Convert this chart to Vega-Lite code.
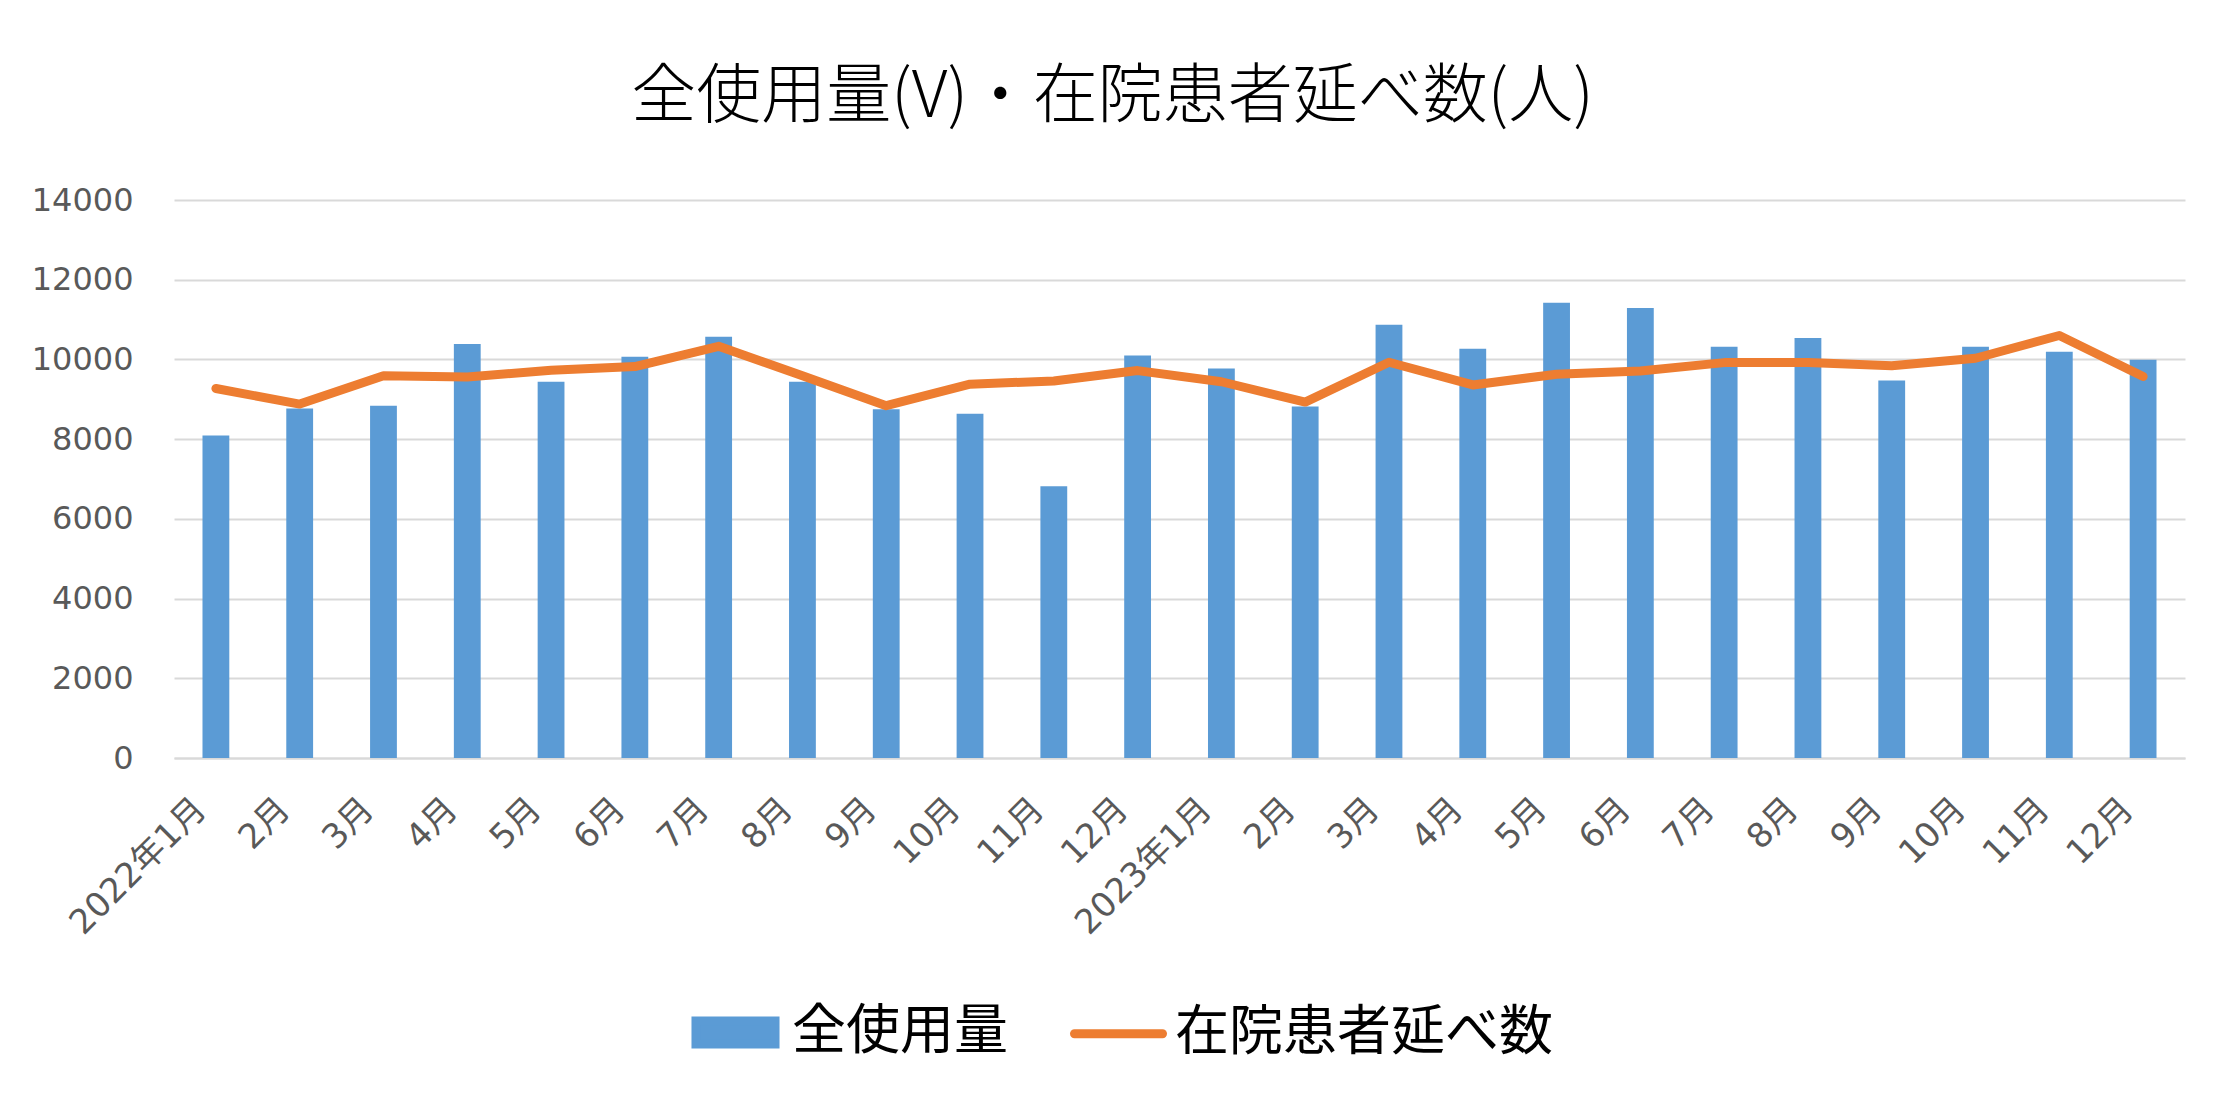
{
  "$schema": "https://vega.github.io/schema/vega-lite/v6.json",
  "width": 2011,
  "height": 558,
  "autosize": {"type": "none"},
  "padding": {"left": 174, "top": 200, "right": 51, "bottom": 353},
  "background": "white",
  "title": {
    "text": "全使用量(V)・在院患者延べ数(人)",
    "font": "Noto Sans CJK JP",
    "fontSize": 65,
    "fontWeight": 300,
    "color": "#000000",
    "anchor": "middle",
    "offset": 53,
    "dx": -67
  },
  "data": {
    "values": [
      {"month": "2022年1月", "usage": 8090, "patients": 9270},
      {"month": "2022年2月", "usage": 8770, "patients": 8880},
      {"month": "2022年3月", "usage": 8840, "patients": 9590},
      {"month": "2022年4月", "usage": 10390, "patients": 9560},
      {"month": "2022年5月", "usage": 9440, "patients": 9730},
      {"month": "2022年6月", "usage": 10070, "patients": 9820},
      {"month": "2022年7月", "usage": 10570, "patients": 10330},
      {"month": "2022年8月", "usage": 9440, "patients": 9590},
      {"month": "2022年9月", "usage": 8750, "patients": 8840},
      {"month": "2022年10月", "usage": 8640, "patients": 9380},
      {"month": "2022年11月", "usage": 6820, "patients": 9460},
      {"month": "2022年12月", "usage": 10100, "patients": 9720},
      {"month": "2023年1月", "usage": 9770, "patients": 9440},
      {"month": "2023年2月", "usage": 8820, "patients": 8930},
      {"month": "2023年3月", "usage": 10870, "patients": 9930},
      {"month": "2023年4月", "usage": 10270, "patients": 9360},
      {"month": "2023年5月", "usage": 11420, "patients": 9630},
      {"month": "2023年6月", "usage": 11290, "patients": 9710},
      {"month": "2023年7月", "usage": 10320, "patients": 9920},
      {"month": "2023年8月", "usage": 10540, "patients": 9920},
      {"month": "2023年9月", "usage": 9470, "patients": 9840},
      {"month": "2023年10月", "usage": 10320, "patients": 10030},
      {"month": "2023年11月", "usage": 10190, "patients": 10600},
      {"month": "2023年12月", "usage": 9990, "patients": 9570}
    ]
  },
  "encoding": {
    "x": {
      "field": "month",
      "type": "nominal",
      "sort": null,
      "scale": {"paddingInner": 0.68, "paddingOuter": 0.34},
      "axis": {
        "title": null,
        "labelAngle": -45,
        "labelAlign": "right",
        "labelBaseline": "middle",
        "labelPadding": 46,
        "labelOffset": -15,
        "labelLimit": 0,
        "ticks": false,
        "domain": true,
        "domainColor": "#d9d9d9",
        "domainWidth": 2,
        "grid": false,
        "labelFont": "DejaVu Sans, Noto Sans CJK JP",
        "labelFontSize": 34,
        "labelColor": "#595959",
        "labelExpr": "slice(datum.value, 5) == '1月' ? datum.value : slice(datum.value, 5)"
      }
    }
  },
  "layer": [
    {
      "mark": {"type": "bar", "color": "#5B9BD5"},
      "encoding": {
        "y": {
          "field": "usage",
          "type": "quantitative",
          "scale": {"domain": [0, 14000]},
          "axis": {
            "title": null,
            "values": [0, 2000, 4000, 6000, 8000, 10000, 12000, 14000],
            "format": "d",
            "grid": true,
            "gridColor": "#d9d9d9",
            "gridWidth": 2,
            "domain": false,
            "ticks": false,
            "labelPadding": 41,
            "labelFont": "DejaVu Sans",
            "labelFontSize": 32,
            "labelColor": "#595959"
          }
        },
        "color": {
          "datum": "全使用量",
          "scale": {"domain": ["全使用量", "在院患者延べ数"], "range": ["#5B9BD5", "#ED7D31"]},
          "legend": {
            "orient": "none",
            "legendX": 513,
            "legendY": 784,
            "direction": "horizontal",
            "title": null,
            "padding": 0,
            "labelFont": "Noto Sans CJK JP",
            "labelFontSize": 54,
            "labelColor": "#000000",
            "labelOffset": 8,
            "labelLimit": 0,
            "columnPadding": 48,
            "symbolSize": 7744,
            "symbolStrokeWidth": 9,
            "encode": {
              "symbols": {
                "update": {
                  "shape": {"signal": "datum.value == '全使用量' ? 'M-0.898,-0.261H0.898V0.261H-0.898Z' : 'M-1,0H1'"},
                  "strokeWidth": {"value": 9},
                  "strokeCap": {"value": "round"},
                  "strokeJoin": {"value": "miter"},
                  "opacity": {"value": 1}
                }
              }
            }
          }
        }
      }
    },
    {
      "mark": {"type": "line", "strokeWidth": 9, "strokeCap": "round", "strokeJoin": "round"},
      "encoding": {
        "y": {"field": "patients", "type": "quantitative"},
        "color": {"datum": "在院患者延べ数"}
      }
    }
  ],
  "config": {
    "view": {"stroke": null}
  }
}
